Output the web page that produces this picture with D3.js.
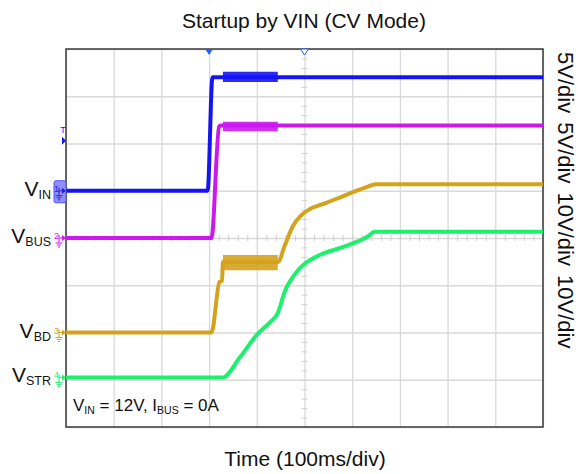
<!DOCTYPE html>
<html>
<head>
<meta charset="utf-8">
<script src="https://cdn.jsdelivr.net/npm/d3@7"></script>
<style>
  body { margin: 0; background: #fff; }
  svg { display: block; font-family: Arial, "Liberation Sans", sans-serif; }
</style>
</head>
<body>
<svg id="chart" width="578" height="474"></svg>
<script>
// Oscilloscope capture: startup by VIN in CV mode. Time in ms (trigger at 0), voltages in V.

const TIME_DOMAIN = [-300, 700];          // 10 div x 100 ms
const TIME_TICKS = d3.range(-300, 701, 100);
const DIV_DOMAIN = [-4, 4];               // 8 vertical divisions
const DIV_TICKS = d3.range(-4, 4.01, 1);
const MINOR_DIV_TICKS = d3.range(-4, 4.001, 0.2);
const MINOR_TIME_TICKS = d3.range(-300, 700.1, 20);

const CHANNELS = ["IN", "BUS", "BD", "STR"];
const CHANNEL_NUM = ["1", "2", "3", "4"];
const VOLTS_PER_DIV = [5, 5, 10, 10];
const GROUND_DIV = [1.0, 0.0, -2.0, -2.95];
const COLORS = ["#1414f5", "#cc18f0", "#d4a21c", "#1cf06c"];
const SCALE_LABELS = ["5V/div", "5V/div", "10V/div", "10V/div"];

// traces: [time ms, volts]
const VIN_TRACE = [[-300, 0], [-3, 0], [7, 12.0], [700, 12.0]];
const VBUS_TRACE = [[-300, 0], [5, 0], [21, 11.8], [24, 11.9], [700, 11.9]];
const VBD_TRACE = [
  [-300, 0], [5, 0], [22, 10.7], [27, 10.9], [29, 14.9], [144, 14.9], [159, 18.5],
  [176, 22.6], [193, 24.8], [211, 26.1], [247, 27.5], [289, 29.2], [331, 30.8],
  [348, 31.4], [700, 31.4]
];
const VSTR_TRACE = [
  [-300, 0], [29, 0], [65, 4.3], [100, 9.0], [128, 11.7], [144, 13.6], [159, 18.3],
  [176, 21.3], [191, 23.2], [205, 24.4], [232, 25.9], [281, 27.6], [331, 29.7],
  [348, 30.8], [700, 30.8]
];
const TRACES = [VIN_TRACE, VBUS_TRACE, VBD_TRACE, VSTR_TRACE];

// noisy stretches while the converter starts: [time ms, low V, high V]
const VIN_NOISE = [[29, 11.5, 12.6], [144, 11.5, 12.6]];
const VBUS_NOISE = [[29, 11.3, 12.3], [144, 11.3, 12.3]];
const VBD_NOISE = [[29, 13.2, 16.4], [144, 13.2, 16.4]];
const NOISE = [VIN_NOISE, VBUS_NOISE, VBD_NOISE, null];

const TRIGGER_TIME = 0;
const DELAY_TIME = 200;
const TRIGGER_LEVEL = 5.3;   // on channel 1

const svg = d3.select("#chart");
const margin = { top: 49, right: 35, bottom: 47, left: 66 };
const W = 578 - margin.left - margin.right;
const H = 474 - margin.top - margin.bottom;

const x = d3.scaleLinear().domain(TIME_DOMAIN).range([margin.left, margin.left + W]);
const yDiv = d3.scaleLinear().domain(DIV_DOMAIN).range([margin.top + H, margin.top]);
const yCh = (i, v) => yDiv(GROUND_DIV[i] + v / VOLTS_PER_DIV[i]);

// grid
svg.append("g").attr("transform", `translate(0,${margin.top + H})`)
  .call(d3.axisBottom(x).tickValues(TIME_TICKS).tickSize(-H).tickFormat(""))
  .call(g => g.select(".domain").remove())
  .selectAll("line").attr("stroke", "#d9d9d9").attr("stroke-width", 1.3);
svg.append("g").attr("transform", `translate(${margin.left},0)`)
  .call(d3.axisLeft(yDiv).tickValues(DIV_TICKS).tickSize(-W).tickFormat(""))
  .call(g => g.select(".domain").remove())
  .selectAll("line").attr("stroke", "#d9d9d9").attr("stroke-width", 1.3);

// minor ticks on the centre lines
[3, -3].forEach(s => {
  svg.append("g").attr("transform", `translate(${x(DELAY_TIME)},0)`)
    .call(d3.axisLeft(yDiv).tickValues(MINOR_DIV_TICKS).tickSize(s).tickFormat(""))
    .call(g => g.select(".domain").remove())
    .selectAll("line").attr("stroke", "#cfcfcf").attr("stroke-width", 1);
  svg.append("g").attr("transform", `translate(0,${yDiv(0)})`)
    .call(d3.axisBottom(x).tickValues(MINOR_TIME_TICKS).tickSize(s).tickFormat(""))
    .call(g => g.select(".domain").remove())
    .selectAll("line").attr("stroke", "#cfcfcf").attr("stroke-width", 1);
});

// frame
svg.append("rect")
  .attr("x", margin.left).attr("y", margin.top).attr("width", W).attr("height", H)
  .attr("fill", "none").attr("stroke", "#3a3a3a").attr("stroke-width", 1.5);

// noise bands then traces
TRACES.forEach((pts, i) => {
  if (NOISE[i]) {
    svg.append("path").datum(NOISE[i])
      .attr("fill", COLORS[i]).attr("opacity", 0.9)
      .attr("d", d3.area().x(d => x(d[0])).y0(d => yCh(i, d[1])).y1(d => yCh(i, d[2])));
  }
  svg.append("path").datum(pts)
    .attr("fill", "none").attr("stroke", COLORS[i]).attr("stroke-width", 4)
    .attr("stroke-linejoin", "round")
    .attr("d", d3.line().x(d => x(d[0])).y(d => yCh(i, d[1])).curve(d3.curveMonotoneX));
});

// top markers: trigger position (filled) and delay (hollow)
svg.append("path")
  .attr("d", `M${x(TRIGGER_TIME) - 4},${margin.top} L${x(TRIGGER_TIME) + 4},${margin.top} L${x(TRIGGER_TIME)},${margin.top + 6} Z`)
  .attr("fill", "#1f5fff");
svg.append("path")
  .attr("d", `M${x(DELAY_TIME) - 4},${margin.top} L${x(DELAY_TIME) + 4},${margin.top} L${x(DELAY_TIME)},${margin.top + 6} Z`)
  .attr("fill", "#fff").attr("stroke", "#1f5fff").attr("stroke-width", 1);

// trigger level marker
const ty = yCh(0, TRIGGER_LEVEL);
svg.append("text").attr("x", margin.left - 3).attr("y", ty - 8)
  .attr("text-anchor", "middle").style("font-size", "9px").style("fill", "#1414f5").text("T");
svg.append("path")
  .attr("d", `M${margin.left - 4},${ty - 4} L${margin.left},${ty} L${margin.left - 4},${ty + 4} Z`)
  .attr("fill", "#1414f5");

// ground markers and channel names
CHANNELS.forEach((name, i) => {
  const gy = yCh(i, 0);
  const col = i === 0 ? "#2222cc" : COLORS[i];
  const gm = svg.append("g");
  if (i === 0) {
    gm.append("rect").attr("x", 54).attr("y", gy - 10).attr("width", 12).attr("height", 22)
      .attr("rx", 2).attr("fill", "#8f8fff").attr("stroke", "#5050ff").attr("stroke-width", 1);
  }
  gm.append("text").attr("x", 56.5).attr("y", gy + 1)
    .attr("text-anchor", "middle").style("font-size", "9px").style("fill", col).text(CHANNEL_NUM[i]);
  gm.append("line").attr("x1", 59).attr("x2", 63).attr("y1", gy).attr("y2", gy)
    .attr("stroke", col).attr("stroke-width", 1);
  gm.append("path").attr("d", `M62,${gy - 3} L66,${gy} L62,${gy + 3} Z`).attr("fill", col);
  gm.append("line").attr("x1", 59).attr("x2", 59).attr("y1", gy - 3).attr("y2", gy + 5)
    .attr("stroke", col).attr("stroke-width", 1);
  [[55.5, 62.5, 5], [56.8, 61.2, 7], [58, 60, 9]].forEach(([a, b, dy]) => {
    gm.append("line").attr("x1", a).attr("x2", b).attr("y1", gy + dy).attr("y2", gy + dy)
      .attr("stroke", col).attr("stroke-width", 1);
  });

  const t = svg.append("text").attr("x", 51).attr("y", gy + 5)
    .attr("text-anchor", "end").style("fill", "#111");
  t.append("tspan").style("font-size", "21px").text("V");
  t.append("tspan").style("font-size", "12.5px").attr("dy", 3).text(name);
});

// condition note
const note = svg.append("text").attr("x", 73).attr("y", 411).style("font-size", "17px").style("fill", "#111");
note.append("tspan").text("V");
note.append("tspan").style("font-size", "10.5px").attr("dy", 3).text("IN");
note.append("tspan").attr("dy", -3).text(" = 12V, I");
note.append("tspan").style("font-size", "10.5px").attr("dy", 3).text("BUS");
note.append("tspan").attr("dy", -3).text(" = 0A");

// title, x label, per-channel scales
svg.append("text").attr("x", 304).attr("y", 28).attr("text-anchor", "middle")
  .style("font-size", "21px").style("fill", "#111").text("Startup by VIN (CV Mode)");
svg.append("text").attr("x", 305).attr("y", 466).attr("text-anchor", "middle")
  .style("font-size", "21px").style("fill", "#111").text("Time (100ms/div)");
svg.append("text").attr("transform", "translate(558,52) rotate(90)")
  .style("font-size", "22px").style("word-spacing", "3px").style("fill", "#111")
  .text(SCALE_LABELS.join(" "));
</script>
</body>
</html>
